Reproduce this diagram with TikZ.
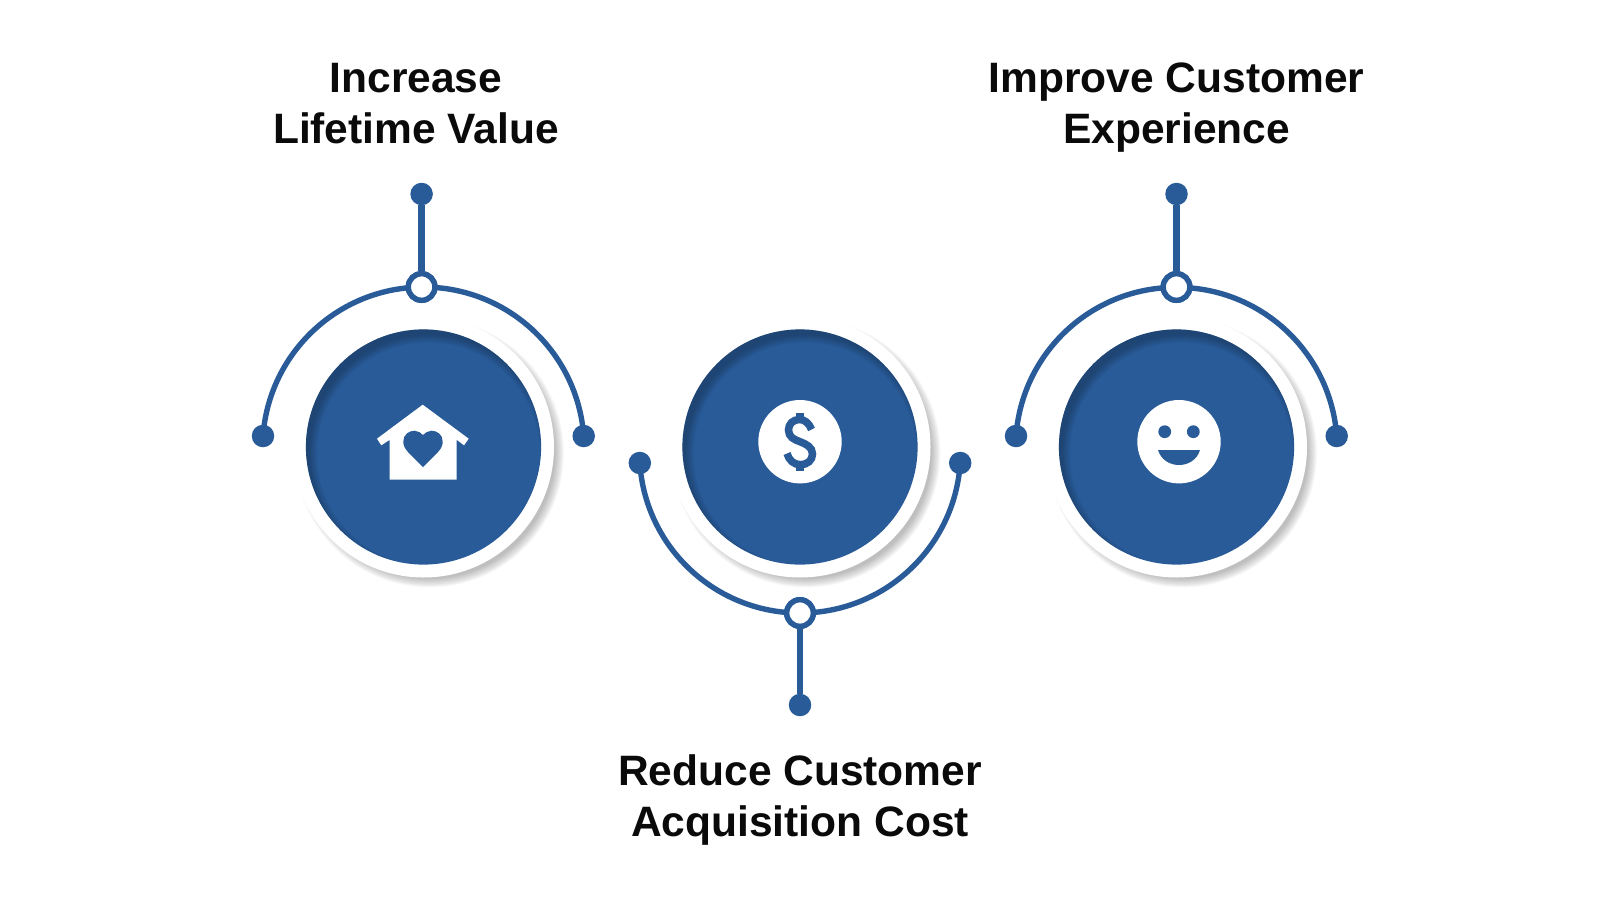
\documentclass[tikz,border=0pt]{standalone}
\usepackage{fontspec}
\setmainfont{Liberation Sans}
\definecolor{blu}{HTML}{285B98}
\definecolor{tit}{HTML}{0A0A0A}
\tikzset{
  px/.style={x=0.05cm,y=-0.05cm},
  main/.style={circle,fill=blu,minimum size=235.2*0.05cm,inner sep=0pt},
  ringw/.style={circle,fill=white,minimum size=261*0.05cm,inner sep=0pt},
  dot/.style={circle,fill=blu,minimum size=22.5*0.05cm,inner sep=0pt},
  hub/.style={circle,fill=white,draw=blu,line width=5.4*0.05cm,minimum size=26.6*0.05cm,inner sep=0pt},
  link/.style={draw=blu,line width=5.4*0.05cm},
  stem/.style={draw=blu,line width=6.4*0.05cm},
  ttl/.style={align=center,text=tit,font=\fontsize{60.5}{72.5}\selectfont\bfseries,inner sep=0pt},
}
\newcommand{\softshadow}[2]{%
  \foreach \k in {0,...,11}{
    \fill[black,opacity=0.024] (#1+6,#2+6) circle[radius=134.5-\k*0.8];
  }}
\newcommand{\innershadow}[2]{%
  \begin{scope}
    \clip (#1,#2) circle[radius=117.6];
    \foreach \k in {0,...,9}{
      \fill[black,opacity=0.022,even odd rule] (#1,#2) circle[radius=130]
        (#1+5,#2+7) circle[radius=119.5-\k*0.9];
    }
  \end{scope}}
\begin{document}
\begin{tikzpicture}[px]
\useasboundingbox (0,0) rectangle (1600,900);
% shadows and discs
\softshadow{423.5}{447}
\softshadow{800}{447}
\softshadow{1176.5}{447}
\node[ringw] (wa) at (423.5,447) {};
\node[ringw] (wb) at (800,447) {};
\node[ringw] (wc) at (1176.5,447) {};
\node[main] (ca) at (423.5,447) {};
\node[main] (cb) at (800,447) {};
\node[main] (cc) at (1176.5,447) {};
\innershadow{423.5}{447}
\innershadow{800}{447}
\innershadow{1176.5}{447}
% left arc
\node[dot] (al) at (263,436) {};
\node[dot] (ar) at (583.7,436) {};
\node[dot] (at) at (421.6,194) {};
\node[hub] (ah) at (421.6,287) {};
\draw[link] (al.center) arc[start angle=-175.8,end angle=-90,radius=160.7];
\draw[link] (ar.center) arc[start angle=-4.2,end angle=-90,radius=160.7];
\draw[stem] (at) -- (ah);
\node[hub] at (ah) {};
% middle arc
\node[dot] (bl) at (639.8,463) {};
\node[dot] (br) at (960.2,463) {};
\node[dot] (bt) at (800,705) {};
\node[hub] (bh) at (800,613) {};
\draw[link] (bl.center) arc[start angle=176.25,end angle=90,radius=160.5];
\draw[link] (br.center) arc[start angle=3.75,end angle=90,radius=160.5];
\draw[stem] (bt) -- (bh);
\node[hub] at (bh) {};
% right arc
\node[dot] (cl) at (1016,436) {};
\node[dot] (cr) at (1336.7,436) {};
\node[dot] (ct) at (1176.5,194) {};
\node[hub] (ch) at (1176.5,287) {};
\draw[link] (cl.center) arc[start angle=-175.8,end angle=-90,radius=160.4];
\draw[link] (cr.center) arc[start angle=-4.2,end angle=-90,radius=160.4];
\draw[stem] (ct) -- (ch);
\node[hub] at (ch) {};
% house icon
\fill[white] (422.7,404.7) -- (468.7,438.7) -- (464,445.3) -- (456.7,439.8) -- (456.7,479.7) -- (389.7,479.7) -- (389.7,439.8) -- (381.3,445.3) -- (377,438.7) -- cycle;
\fill[blu] (423,467) -- (408,452) .. controls (404.5,448) and (403.3,445.5) .. (403.3,441.5)
  .. controls (403.3,434.5) and (409,430.7) .. (414.5,430.7)
  .. controls (418,430.7) and (421,433) .. (423,435)
  .. controls (425,433) and (428,430.7) .. (431.5,430.7)
  .. controls (437,430.7) and (442.7,434.5) .. (442.7,441.5)
  .. controls (442.7,445.5) and (441.5,448) .. (438,452) -- cycle;
% dollar icon
\fill[white] (800,441.7) circle[radius=41.7];
\draw[blu,line width=7.5*0.05cm] (811.5,429.5) .. controls (809,423) and (804.5,419.5) .. (799.5,419.5)
  .. controls (793,419.5) and (788.5,424) .. (788.5,430)
  .. controls (788.5,437) and (794,439.5) .. (800,441.7)
  .. controls (806,444) and (812.5,447) .. (812.5,454)
  .. controls (812.5,460.5) and (807,464.7) .. (800.5,464.7)
  .. controls (794,464.7) and (789,460.5) .. (787,453.5);
\fill[blu] (796.3,412.7) rectangle (803.7,421);
\fill[blu] (796.3,463) rectangle (803.7,470.7);
% smiley icon
\fill[white] (1179,441.7) circle[radius=41.7];
\fill[blu] (1164.7,431.7) circle[radius=6.4];
\fill[blu] (1193.3,431.7) circle[radius=6.4];
\fill[blu] (1158,450) -- (1200,450) .. controls (1197,460) and (1188,465) .. (1179,465) .. controls (1170,465) and (1161,460) .. (1158,450) -- cycle;
% titles
\node[ttl,anchor=base] (t1) at (416,143.5) {Increase\\Lifetime Value};
\node[ttl,anchor=base] (t3) at (1176.5,143.5) {Improve Customer\\Experience};
\node[ttl,anchor=base] (t2) at (800,836.5) {Reduce Customer\\Acquisition Cost};
\end{tikzpicture}
\end{document}
